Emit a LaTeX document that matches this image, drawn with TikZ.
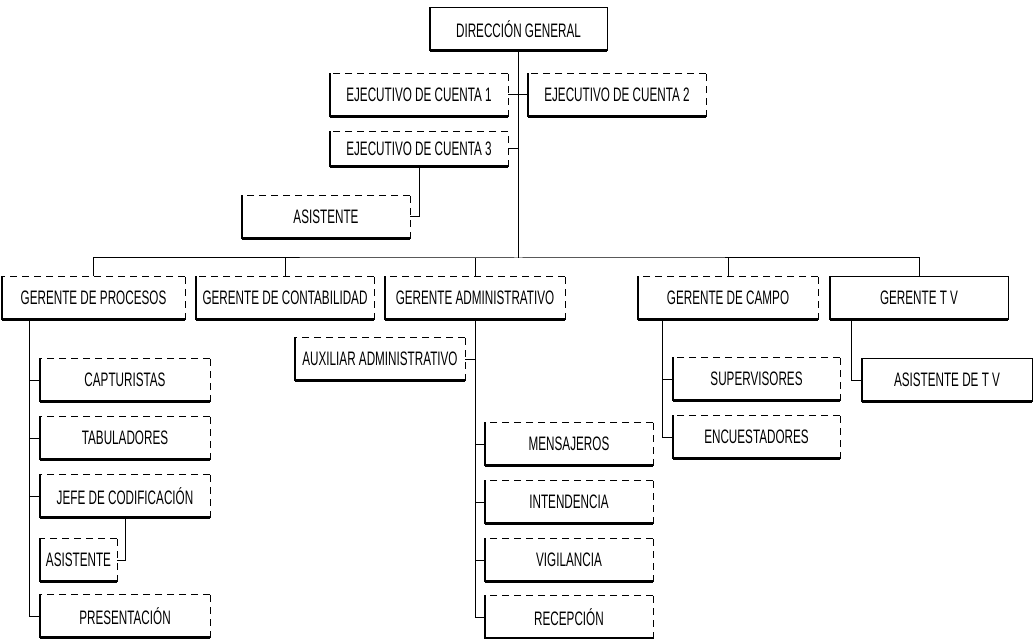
\documentclass[tikz,border=0pt]{standalone}
\usepackage{fontspec}
\newfontfamily\orgfont[FakeStretch=0.6]{Liberation Sans}

\tikzstyle{dashline}=[line width=1pt,dash pattern=on 7pt off 5pt]
\tikzstyle{thinline}=[line width=1.4pt]
\tikzstyle{thickline}=[line width=2.6pt]
\tikzstyle{caja}=[inner sep=0pt,minimum height=43pt,font=\orgfont\fontsize{19.5}{22}\selectfont]
\tikzstyle{puesto}=[caja,append after command={
    (\tikzlastnode.south east) edge[dashline] (\tikzlastnode.north east)
    (\tikzlastnode.north east) edge[dashline] (\tikzlastnode.north west)
    (\tikzlastnode.north west) edge[thinline] (\tikzlastnode.south west)
    (\tikzlastnode.south west) edge[thickline] (\tikzlastnode.south east)}]
\tikzstyle{mainpuesto}=[caja,append after command={
    (\tikzlastnode.south east) edge[thinline] (\tikzlastnode.north east)
    (\tikzlastnode.north east) edge[thinline] (\tikzlastnode.north west)
    (\tikzlastnode.north west) edge[thinline] (\tikzlastnode.south west)
    (\tikzlastnode.south west) edge[thickline] (\tikzlastnode.south east)}]
\tikzstyle{linea}=[line width=1pt]

\begin{document}
\begin{tikzpicture}[x=1pt,y=-1pt]
\useasboundingbox (0,0) rectangle (1034,639);
% direccion y ejecutivos
\node[mainpuesto,minimum width=177pt] (dg) at (518.5,29) {DIRECCIÓN GENERAL};
\node[puesto,minimum width=178pt] (ej1) at (419,95) {EJECUTIVO DE CUENTA 1};
\node[puesto,minimum width=178pt] (ej2) at (617,95) {EJECUTIVO DE CUENTA 2};
\node[puesto,minimum width=178pt,minimum height=35pt] (ej3) at (419,149) {EJECUTIVO DE CUENTA 3};
\node[puesto,minimum width=168pt] (asis1) at (326,217) {ASISTENTE};
% gerentes
\node[puesto,minimum width=183pt] (proc) at (93.5,298) {GERENTE DE PROCESOS};
\node[puesto,minimum width=178pt] (cont) at (285,298) {GERENTE DE CONTABILIDAD};
\node[puesto,minimum width=180pt] (adm) at (475,298) {GERENTE ADMINISTRATIVO};
\node[puesto,minimum width=180pt] (campo) at (728,298) {GERENTE DE CAMPO};
\node[mainpuesto,minimum width=178pt] (tv) at (919,298) {GERENTE T V};
% procesos
\node[puesto,minimum width=170pt] (capt) at (125,380) {CAPTURISTAS};
\node[puesto,minimum width=170pt] (tab) at (125,438) {TABULADORES};
\node[puesto,minimum width=170pt] (jefe) at (125,496) {JEFE DE CODIFICACIÓN};
\node[puesto,minimum width=77pt] (asis2) at (78.5,560) {ASISTENTE};
\node[puesto,minimum width=170pt] (pres) at (125,616) {PRESENTACIÓN};
% administrativo
\node[puesto,minimum width=170pt] (aux) at (380,359) {AUXILIAR ADMINISTRATIVO};
\node[puesto,minimum width=168pt] (mens) at (569,444) {MENSAJEROS};
\node[puesto,minimum width=168pt] (int) at (569,502) {INTENDENCIA};
\node[puesto,minimum width=168pt] (vig) at (569,560) {VIGILANCIA};
\node[puesto,minimum width=168pt] (rec) at (569,617) {RECEPCIÓN};
% campo y tv
\node[puesto,minimum width=167pt] (sup) at (756.5,379) {SUPERVISORES};
\node[puesto,minimum width=167pt] (enc) at (756.5,437) {ENCUESTADORES};
\node[mainpuesto,minimum width=170pt] (asistv) at (947,380) {ASISTENTE DE T V};

% lineas
\coordinate (bus) at (518.5,258);
\draw[linea] (dg.south) -- (bus);
\draw[linea] (ej1.east) -- (ej2.west);
\draw[linea] (ej3.east) -- (ej3.east -| dg.south);
\draw[linea] (asis1.east) -| (ej3.south);
\draw[linea] (proc.north) |- (bus) -| (tv.north);
\draw[linea] (cont.north) -- (cont.north |- bus);
\draw[linea] (adm.north) -- (adm.north |- bus);
\draw[linea] (campo.north) -- (campo.north |- bus);
\draw[linea] ([xshift=28pt]proc.south west) |- (capt.west);
\draw[linea] ([xshift=28pt]proc.south west) |- (tab.west);
\draw[linea] ([xshift=28pt]proc.south west) |- (jefe.west);
\draw[linea] ([xshift=28pt]proc.south west) |- (pres.west);
\draw[linea] (asis2.east) -| (jefe.south);
\draw[linea] (aux.east) -- (aux.east -| adm.south);
\draw[linea] (adm.south) |- (mens.west);
\draw[linea] (adm.south) |- (int.west);
\draw[linea] (adm.south) |- (vig.west);
\draw[linea] (adm.south) |- (rec.west);
\draw[linea] ([xshift=25pt]campo.south west) |- (sup.west);
\draw[linea] ([xshift=25pt]campo.south west) |- (enc.west);
\draw[linea] ([xshift=22pt]tv.south west) |- (asistv.west);
\end{tikzpicture}
\end{document}
